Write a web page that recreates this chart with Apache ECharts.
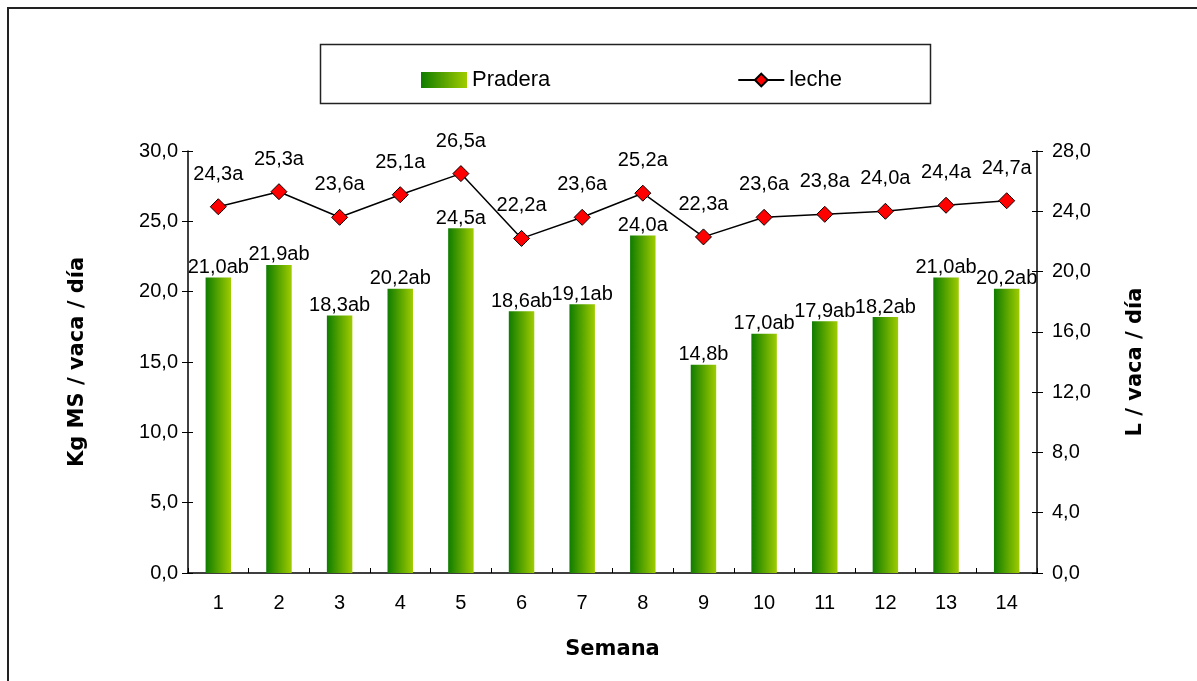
<!DOCTYPE html>
<html>
<head>
<meta charset="utf-8">
<script src="https://cdn.jsdelivr.net/npm/echarts@6/dist/echarts.min.js"></script>
<style>
  html, body { margin: 0; padding: 0; background: #fff; }
  #main { width: 1197px; height: 681px; }
</style>
</head>
<body>
<div id="main"></div>
<script>
var semanas = ['1', '2', '3', '4', '5', '6', '7', '8', '9', '10', '11', '12', '13', '14'];
var pradera = [21.0, 21.9, 18.3, 20.2, 24.5, 18.6, 19.1, 24.0, 14.8, 17.0, 17.9, 18.2, 21.0, 20.2];
var praderaLetras = ['ab', 'ab', 'ab', 'ab', 'a', 'ab', 'ab', 'a', 'b', 'ab', 'ab', 'ab', 'ab', 'ab'];
var leche = [24.3, 25.3, 23.6, 25.1, 26.5, 22.2, 23.6, 25.2, 22.3, 23.6, 23.8, 24.0, 24.4, 24.7];
var lecheLetras = ['a', 'a', 'a', 'a', 'a', 'a', 'a', 'a', 'a', 'a', 'a', 'a', 'a', 'a'];

var coma = function (v, d) { return v.toFixed(d).replace('.', ','); };
var fuente = 'Liberation Sans, Arial, sans-serif';
var titulo = 'DejaVu Sans, Verdana, sans-serif';

var myChart = echarts.init(document.getElementById('main'));

var verde = new echarts.graphic.LinearGradient(0, 0, 1, 0, [
    { offset: 0, color: '#0f7c00' },
    { offset: 1, color: '#a0cc00' }
]);

// ejes extra solo para que las marcas crucen la linea del eje
var yBase = function (pos, max, interval) {
    return {
        type: 'value', position: pos, min: 0, max: max, interval: interval,
        splitLine: { show: false },
        axisLine: { show: false },
        axisLabel: { show: false },
        axisTick: { show: true, inside: true, length: 5, lineStyle: { color: '#000' } }
    };
};

var option = {
    animation: false,
    backgroundColor: '#fff',
    grid: { left: 188, right: 160, top: 151, bottom: 108 },
    graphic: [
        { type: 'polyline', shape: { points: [[8, 681], [8, 8], [1197, 8]] }, style: { stroke: '#222', lineWidth: 2, fill: null } },
        { type: 'rect', shape: { x: 320.5, y: 44.5, width: 610, height: 59 }, style: { stroke: '#222', lineWidth: 1.5, fill: null } }
    ],
    legend: {
        left: 416, top: 64,
        itemWidth: 46, itemHeight: 16, itemGap: 187,
        textStyle: { fontFamily: fuente, fontSize: 22, color: '#000' },
        data: [
            { name: 'Pradera', icon: 'rect' },
            { name: 'leche' }
        ]
    },
    xAxis: [{
        type: 'category',
        data: semanas,
        name: 'Semana',
        nameLocation: 'middle',
        nameGap: 66,
        nameTextStyle: { fontFamily: titulo, fontWeight: 'bold', fontSize: 21, color: '#000' },
        axisLine: { lineStyle: { color: '#000', width: 1.5 } },
        axisTick: { length: 7, lineStyle: { color: '#000' } },
        axisLabel: { fontFamily: fuente, fontSize: 20, color: '#000', margin: 20 }
    }, {
        type: 'category', data: semanas, position: 'bottom',
        axisLine: { show: false }, axisLabel: { show: false },
        axisTick: { show: true, inside: true, length: 5, lineStyle: { color: '#000' } }
    }],
    yAxis: [{
        type: 'value', min: 0, max: 30, interval: 5,
        name: 'Kg MS / vaca / día',
        nameLocation: 'middle',
        nameGap: 100,
        nameTextStyle: { fontFamily: titulo, fontWeight: 'bold', fontSize: 21, color: '#000' },
        splitLine: { show: false },
        axisLine: { show: true, lineStyle: { color: '#000', width: 1.5 } },
        axisTick: { show: true, length: 6, lineStyle: { color: '#000' } },
        axisLabel: { fontFamily: fuente, fontSize: 20, color: '#000', margin: 10, formatter: function (v) { return coma(v, 1); } }
    }, {
        type: 'value', min: 0, max: 28, interval: 4, position: 'right',
        name: 'L / vaca / día',
        nameLocation: 'middle',
        nameGap: 88,
        nameRotate: 90,
        nameTextStyle: { fontFamily: titulo, fontWeight: 'bold', fontSize: 21, color: '#000' },
        splitLine: { show: false },
        axisLine: { show: true, lineStyle: { color: '#000', width: 1.5 } },
        axisTick: { show: true, length: 6, lineStyle: { color: '#000' } },
        axisLabel: { fontFamily: fuente, fontSize: 20, color: '#000', margin: 15, formatter: function (v) { return coma(v, 1); } }
    },
        yBase('left', 30, 5),
        yBase('right', 28, 4)
    ],
    series: [{
        name: 'Pradera',
        type: 'bar',
        barWidth: '42%',
        itemStyle: { color: verde },
        label: {
            show: true, position: 'top', distance: 0,
            fontFamily: fuente, fontSize: 20, color: '#000',
            formatter: function (p) { return coma(p.value, 1) + praderaLetras[p.dataIndex]; }
        },
        data: pradera
    }, {
        name: 'leche',
        type: 'line',
        yAxisIndex: 1,
        symbol: 'diamond',
        symbolSize: 16,
        lineStyle: { color: '#000', width: 1.5 },
        itemStyle: { color: '#ff0000', borderColor: '#000', borderWidth: 1 },
        label: {
            show: true, position: 'top', distance: 14,
            fontFamily: fuente, fontSize: 20, color: '#000',
            formatter: function (p) { return coma(p.value, 1) + lecheLetras[p.dataIndex]; }
        },
        data: leche,
        z: 3
    }]
};

myChart.setOption(option);
</script>
</body>
</html>
